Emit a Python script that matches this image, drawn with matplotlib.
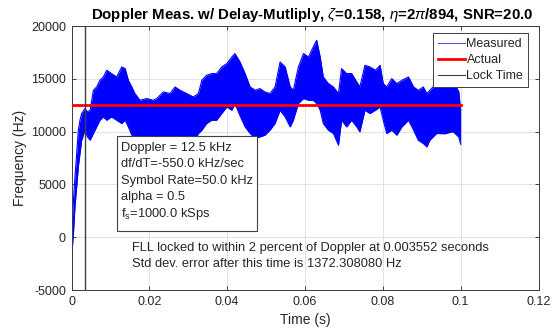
import matplotlib
matplotlib.use("Agg")
import matplotlib.pyplot as plt
from matplotlib.lines import Line2D
from matplotlib.patches import Rectangle
import numpy as np

plt.rcParams['font.family'] = ['Liberation Sans', 'DejaVu Sans']
plt.rcParams['mathtext.fontset'] = 'custom'
plt.rcParams['mathtext.rm'] = 'Liberation Sans'
plt.rcParams['mathtext.it'] = 'Liberation Sans:italic'

# ---- data ----
t_env = [0.0, 0.0001, 0.0005, 0.00089, 0.00133, 0.00175, 0.00218, 0.00261, 0.00347, 0.00407,
         0.0048, 0.00561, 0.00647, 0.0073, 0.00818, 0.00904, 0.0103, 0.0116, 0.0129, 0.0138,
         0.0146, 0.0155, 0.0163, 0.0176, 0.0193, 0.0210, 0.0219, 0.0236, 0.0253, 0.0266,
         0.0279, 0.0296, 0.0313, 0.0326, 0.0335, 0.0347, 0.0360, 0.0373, 0.0386, 0.0399,
         0.0412, 0.0420, 0.0433, 0.0446, 0.0459, 0.0472, 0.0484, 0.0497, 0.0510, 0.0523,
         0.0536, 0.0549, 0.0562, 0.0570, 0.0583, 0.0596, 0.0609, 0.0621, 0.0630, 0.0639,
         0.0647, 0.0660, 0.0673, 0.0686, 0.0694, 0.0707, 0.0720, 0.0733, 0.0741, 0.0754,
         0.0767, 0.0781, 0.0793, 0.0801, 0.0810, 0.0823, 0.0836, 0.0849, 0.0866, 0.0879,
         0.0891, 0.0904, 0.0913, 0.0921, 0.0938, 0.0960, 0.0980, 0.0995, 0.1000]
upper = [-1850, 985, 3510, 5715, 7927, 10132, 11077, 11711, 12185, 11870,
         12027, 13916, 14228, 14862, 15174, 15808, 15495, 15174, 16120, 15968,
         14862, 14228, 13603, 12970, 13130, 12970, 13130, 13755, 13603, 14228,
         13916, 13603, 13282, 13603, 14862, 15335, 15495, 15495, 16120, 16441,
         17066, 17387, 16600, 15495, 14228, 13916, 14076, 13755, 13603, 14228,
         16593, 16120, 14228, 13916, 16120, 17387, 17066, 18012, 18646, 17066,
         15174, 14549, 14228, 13603, 15968, 15495, 15495, 14701, 14228, 16281,
         16120, 15808, 16281, 14549, 14228, 15022, 14549, 14862, 15174, 14228,
         13916, 14228, 13603, 13916, 14549, 14200, 14700, 13800, 12000]
lower = [-1850, -1530, 360, 2876, 4768, 6660, 7927, 9186, 10130, 9500,
         9186, 9819, 10444, 11078, 11390, 11078, 11390, 11078, 10765, 11078,
         10444, 9659, 9498, 8800, 8800, 8800, 8800, 8800, 8800, 8800,
         8800, 8800, 8800, 9819, 10132, 10765, 11078, 11078, 11711, 12336,
         12024, 12657, 11500, 10444, 9819, 9346, 9498, 9659, 10132, 10765,
         12024, 11390, 10444, 11078, 12657, 13130, 12970, 12970, 12657, 12024,
         10765, 10132, 9819, 8713, 11078, 10444, 11078, 10444, 9971, 12024,
         11711, 12024, 12336, 11078, 9819, 10132, 9659, 10444, 11078, 10132,
         9186, 8873, 8552, 9186, 9819, 9800, 10000, 9500, 8800]

doppler_actual = 12500.0
t_actual = [0.0, 0.1]
lock_time = 0.003552

xticks = [0, 0.02, 0.04, 0.06, 0.08, 0.1, 0.12]
xtick_labels = ['0', '0.02', '0.04', '0.06', '0.08', '0.1', '0.12']
yticks = [-5000, 0, 5000, 10000, 15000, 20000]
ytick_labels = ['-5000', '0', '5000', '10000', '15000', '20000']

info_lines = ['Doppler = 12.5 kHz', 'df/dT=-550.0 kHz/sec', 'Symbol Rate=50.0 kHz',
              'alpha = 0.5', r'f$_\mathregular{s}$=1000.0 kSps']
fll_lines = ['FLL locked to within 2 percent of Doppler at 0.003552 seconds',
             'Std dev. error after this time is 1372.308080 Hz']
title = r'Doppler Meas. w/ Delay-Mutliply, $\zeta$=0.158, $\eta$=2$\pi$/894, SNR=20.0'

# ---- figure ----
fig = plt.figure(figsize=(5.53, 3.30), dpi=100)
ax = fig.add_axes([0.1293, 0.1212, 0.8445, 0.8000])

tc = '#262626'
ax.fill_between(t_env, lower, upper, color='#0000ff', lw=0, zorder=2)
ax.plot(t_env, upper, color='#0000ff', lw=0.8, zorder=2)
ax.plot(t_env, lower, color='#0000ff', lw=0.8, zorder=2)
ax.plot(t_actual, [doppler_actual, doppler_actual], color='#ff0000', lw=2, zorder=3)
ax.axvline(lock_time, color='#404040', lw=1.0, zorder=3)

ax.set_xlim(0, 0.12)
ax.set_ylim(-5000, 20000)
ax.set_xticks(xticks)
ax.set_xticklabels(xtick_labels)
ax.set_yticks(yticks)
ax.set_yticklabels(ytick_labels)
ax.tick_params(direction='in', top=True, right=True, labelsize=9, colors=tc,
               length=3, width=0.6, pad=4)
ax.grid(True, color='#dcdcdc', lw=0.6, zorder=0)
ax.set_axisbelow(True)
for s in ax.spines.values():
    s.set_color('#3c3c3c')
    s.set_linewidth(0.7)

ax.set_xlabel('Time (s)', fontsize=10, color=tc, labelpad=4)
ax.set_ylabel('Frequency (Hz)', fontsize=10, color=tc, labelpad=3)
ax.set_title(title, fontsize=10.8, fontweight='bold', color='#000000', pad=5, x=0.515)

# legend
handles = [Line2D([], [], color='#4848d8', lw=0.7),
           Line2D([], [], color='#ff0000', lw=2),
           Line2D([], [], color='#404040', lw=0.8)]
leg = ax.legend(handles, ['Measured', 'Actual', 'Lock Time'], loc='upper right',
                bbox_to_anchor=(0.978, 0.972), borderaxespad=0, fontsize=9,
                handlelength=2.2, handletextpad=0.1, labelspacing=0.32,
                borderpad=0.4, fancybox=False, framealpha=1, edgecolor='#404040')
leg.get_frame().set_linewidth(0.7)
for txt in leg.get_texts():
    txt.set_color(tc)

# info box
ax.add_patch(Rectangle((0.0974, 0.2246), 0.2992, 0.3584, transform=ax.transAxes,
                       facecolor='white', edgecolor='#404040', lw=0.8, zorder=5))
info_y = [0.5379, 0.4754, 0.4129, 0.3504, 0.2879]
for s, yy in zip(info_lines, info_y):
    ax.text(0.1054, yy, s, transform=ax.transAxes, fontsize=9.25, color=tc,
            va='center', ha='left', zorder=6)

fll_y = [0.160, 0.097]
for s, yy in zip(fll_lines, fll_y):
    ax.text(0.129, yy, s, transform=ax.transAxes, fontsize=9.3, color=tc,
            va='center', ha='left', zorder=6)

fig.savefig('out.png', dpi=100)
